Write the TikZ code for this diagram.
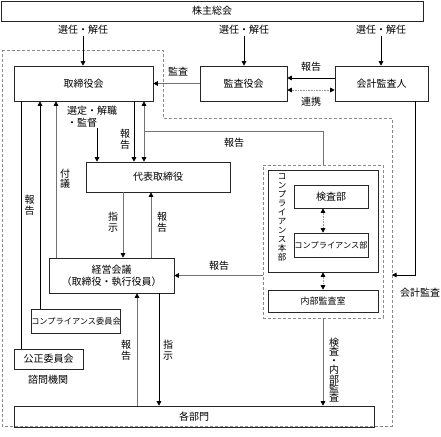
\documentclass[tikz,border=0pt]{standalone}
\usepackage{fontspec}
\setmainfont{Noto Sans CJK JP}
\usetikzlibrary{arrows.meta}

\tikzset{
  box/.style={draw=black!85, line width=0.6pt, inner sep=0pt, align=center, font=\fontsize{10}{12}\selectfont},
  lbl/.style={inner sep=1pt, align=center, font=\fontsize{10}{12}\selectfont},
  tate/.style={inner sep=0pt, align=center, font=\fontsize{10}{10.5}\selectfont},
  line/.style={line width=0.6pt, draw=black},
  gline/.style={line width=0.6pt, draw=black!55},
  arr/.style={line, -{Triangle[length=4.5pt,width=4.5pt]}},
  garr/.style={gline, -{Triangle[length=4.5pt,width=4.5pt,color=black]}},
  darr/.style={line width=0.6pt, draw=black!40, densely dotted, {Triangle[length=4.5pt,width=4.5pt,color=black]}-{Triangle[length=4.5pt,width=4.5pt,color=black]}},
  region/.style={draw=black!45, line width=0.5pt, densely dashed}
}

\begin{document}
\begin{tikzpicture}[x=1pt,y=-1pt]
\useasboundingbox (0,0) rectangle (441,436);

% area of the company
\draw[region] (2,50) -- (163,50) -- (163,118) -- (392,118) -- (392,426) -- (2,426) -- cycle;

% boxes
\node[box, minimum width=422pt, minimum height=20pt] (kabunushi) at (212,11) {株主総会};
\node[box, minimum width=139pt, minimum height=35pt] (torishimari) at (83.5,83.5) {取締役会};
\node[box, minimum width=87pt, minimum height=35pt] (kansayaku) at (243.5,83.5) {監査役会};
\node[box, minimum width=93pt, minimum height=35pt] (kaikei) at (381.5,83.5) {会計監査人};
\node[box, minimum width=144pt, minimum height=30pt] (daihyo) at (158,177) {代表取締役};
\node[box, minimum width=125pt, minimum height=35pt] (keiei) at (111.5,275.5) {経営会議\\（取締役・執行役員）};
\node[box, minimum width=86pt, minimum height=24pt, font=\fontsize{8.2}{10}\selectfont] (compiin) at (76,321) {コンプライアンス委員会};
\node[box, minimum width=69pt, minimum height=20pt] (kosei) at (48.5,359) {公正委員会};
\node[box, minimum width=360pt, minimum height=21pt] (kakubu) at (194,416.5) {各部門};

% compliance
\node[region, minimum width=120pt, minimum height=153pt] (honbu) at (323,241.5) {};
\node[box, minimum width=110pt, minimum height=102pt] (honbuin) at (323,221) {};
\node[tate, font=\fontsize{8.5}{9}\selectfont] (honbulbl) at (282,217) {コ\\ン\\プ\\ラ\\イ\\ア\\ン\\ス\\本\\部};
\node[box, minimum width=74pt, minimum height=23pt] (kensa) at (331,196.5) {検査部};
\node[box, minimum width=74pt, minimum height=24pt, font=\fontsize{8.2}{10}\selectfont] (compbu) at (331,245) {コンプライアンス部};
\node[box, minimum width=110pt, minimum height=22pt, font=\fontsize{9}{10}\selectfont] (naibu) at (323,301) {内部監査室};

% shareholders
\node[lbl] (sennin1) at (83,30) {選任・解任};
\node[lbl] (sennin2) at (244,30) {選任・解任};
\node[lbl] (sennin3) at (381,30) {選任・解任};
\draw[arr] (sennin1.south) -- (torishimari.north -| sennin1.south);
\draw[arr] (sennin2.south) -- (kansayaku.north -| sennin2.south);
\draw[arr] (sennin3.south) -- (kaikei.north -| sennin3.south);

% auditors
\draw[garr] (kansayaku) -- (torishimari);
\node[lbl] at (178,72) {監査};
\draw[arr] ([yshift=5.5pt]kaikei.west) -- ([yshift=5.5pt]kansayaku.east);
\node[lbl] at (311,67) {報告};
\draw[darr] ([yshift=-6.5pt]kansayaku.east) -- ([yshift=-6.5pt]kaikei.west);
\node[lbl] at (311,102) {連携};
\coordinate (kaikeiend) at (392,275);
\draw[arr] (kaikei.south -| 415,0) |- (kaikeiend);
\node[lbl] at (420,293) {会計監査};

% board
\draw[line] (kosei.north -| 21,0) -- (torishimari.south -| 21,0);
\node[tate] at (29.5,205) {報\\告};
\draw[arr] (compiin.north -| 40,0) -- (torishimari.south -| 40,0);
\draw[garr] (keiei.north -| 56,0) -- (torishimari.south -| 56,0);
\node[tate] at (65,179) {付\\議};
\node[lbl, align=left, inner sep=0pt] (senteilbl) at (92,117) {選定・解職\\・監督};
\coordinate (sentei) at (97,128);
\draw[arr] (sentei) -- (daihyo.north -| sentei);
\draw[arr] (torishimari.south -| 134,0) -- (daihyo.north -| 134,0);
\node[tate] at (125,139) {報\\告};
\draw[garr, {Triangle[length=4.5pt,width=4.5pt,color=black]}-{Triangle[length=4.5pt,width=4.5pt,color=black]}] (torishimari.south -| 144,0) -- (daihyo.north -| 144,0);
\coordinate (hokoku) at (144,131);
\draw[gline] (hokoku) -| (honbu.north);
\node[lbl] at (234,143) {報告};

% representative director
\draw[garr] (daihyo.south -| 123,0) -- (keiei.north -| 123,0);
\node[tate] at (113,222) {指\\示};
\draw[garr] (keiei.north -| 151,0) -- (daihyo.south -| 151,0);
\node[tate] at (162,222) {報\\告};
\draw[garr] (honbu.west |- keiei.east) -- (keiei.east);
\node[lbl] at (219,266) {報告};

% compliance inside
\draw[darr] (kensa.south -| 323,0) -- (compbu.north -| 323,0);
\draw[darr] (honbuin.south) -- (naibu.north);

% departments
\draw[garr] (kakubu.north -| 137,0) -- (keiei.south -| 137,0);
\node[tate] at (126,350) {報\\告};
\draw[arr] (keiei.south -| 159,0) -- (kakubu.north -| 159,0);
\node[tate] at (168,350) {指\\示};
\draw[garr] (honbu.south) -- (kakubu.north -| honbu.south);
\node[tate, font=\fontsize{10}{9.3}\selectfont] at (334,370) {検\\査\\・\\内\\部\\監\\査};
\node[lbl] at (48,380) {諮問機関};
\end{tikzpicture}
\end{document}
